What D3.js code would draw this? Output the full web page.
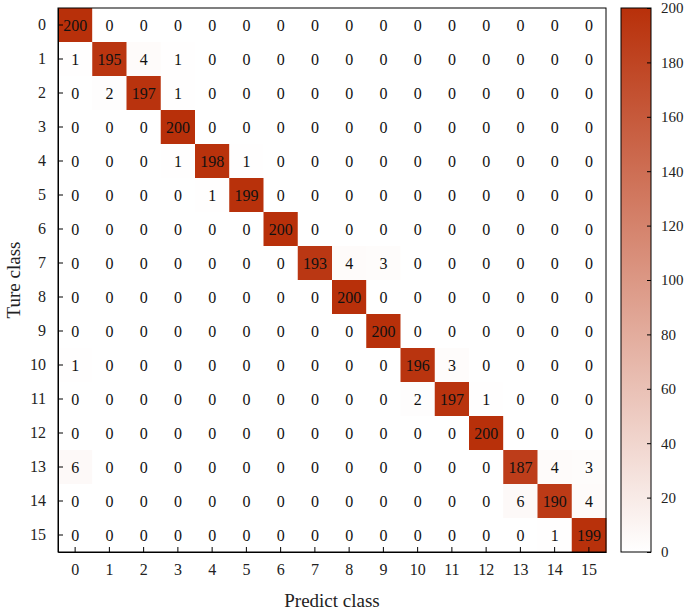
<!DOCTYPE html>
<html><head><meta charset="utf-8">
<script src="https://cdn.jsdelivr.net/npm/d3@7"></script>
<style>body{margin:0;background:#fff}text{font-family:"Liberation Serif","DejaVu Serif",serif}</style>
</head><body>
<svg id="chart" width="685" height="612"></svg>
<script>
const classes = d3.range(16).map(String);
const matrix = [
  [200,0,0,0,0,0,0,0,0,0,0,0,0,0,0,0],
  [1,195,4,1,0,0,0,0,0,0,0,0,0,0,0,0],
  [0,2,197,1,0,0,0,0,0,0,0,0,0,0,0,0],
  [0,0,0,200,0,0,0,0,0,0,0,0,0,0,0,0],
  [0,0,0,1,198,1,0,0,0,0,0,0,0,0,0,0],
  [0,0,0,0,1,199,0,0,0,0,0,0,0,0,0,0],
  [0,0,0,0,0,0,200,0,0,0,0,0,0,0,0,0],
  [0,0,0,0,0,0,0,193,4,3,0,0,0,0,0,0],
  [0,0,0,0,0,0,0,0,200,0,0,0,0,0,0,0],
  [0,0,0,0,0,0,0,0,0,200,0,0,0,0,0,0],
  [1,0,0,0,0,0,0,0,0,0,196,3,0,0,0,0],
  [0,0,0,0,0,0,0,0,0,0,2,197,1,0,0,0],
  [0,0,0,0,0,0,0,0,0,0,0,0,200,0,0,0],
  [6,0,0,0,0,0,0,0,0,0,0,0,0,187,4,3],
  [0,0,0,0,0,0,0,0,0,0,0,0,0,6,190,4],
  [0,0,0,0,0,0,0,0,0,0,0,0,0,0,1,199]
];
const cbTicks = [0,20,40,60,80,100,120,140,160,180,200];

const svg = d3.select("#chart");
const m = {left: 58, top: 8, right: 606, bottom: 552};
const x = d3.scaleBand().domain(classes).range([m.left, m.right]);
const y = d3.scaleBand().domain(classes).range([m.top, m.bottom]);
const color = d3.scaleLinear().domain([0, 200]).range(["#ffffff", "#b8300a"]);

const cells = [];
matrix.forEach((row, i) => row.forEach((v, j) => cells.push({r: classes[i], c: classes[j], v})));

svg.append("g").selectAll("rect").data(cells).enter().append("rect")
  .attr("x", d => x(d.c)).attr("y", d => y(d.r))
  .attr("width", x.bandwidth() + 0.5).attr("height", y.bandwidth() + 0.5)
  .attr("fill", d => color(d.v));

svg.append("g").selectAll("text").data(cells).enter().append("text")
  .attr("x", d => x(d.c) + x.bandwidth() / 2).attr("y", d => y(d.r) + y.bandwidth() / 2)
  .attr("text-anchor", "middle").attr("dy", "0.35em")
  .attr("font-size", 16).attr("fill", "#111").text(d => d.v);

// axes
const xAxis = svg.append("g").attr("transform", `translate(0,${m.bottom})`)
  .call(d3.axisBottom(x).tickSizeInner(-5).tickSizeOuter(0).tickPadding(12));
const yAxis = svg.append("g").attr("transform", `translate(${m.left},0)`)
  .call(d3.axisLeft(y).tickSizeInner(-5).tickSizeOuter(0).tickPadding(12));
[xAxis, yAxis].forEach(a => {
  a.selectAll("text").attr("font-size", 16).attr("fill", "#222").style("font-family", "Liberation Serif");
  a.select(".domain").attr("stroke", "#000");
});
// box
svg.append("rect").attr("x", m.left).attr("y", m.top)
  .attr("width", m.right - m.left).attr("height", m.bottom - m.top)
  .attr("fill", "none").attr("stroke", "#000");

svg.append("text").attr("x", (m.left + m.right) / 2).attr("y", 607)
  .attr("text-anchor", "middle").attr("font-size", 19).attr("fill", "#222").text("Predict class");
svg.append("text").attr("transform", `translate(20,${(m.top + m.bottom) / 2}) rotate(-90)`)
  .attr("text-anchor", "middle").attr("font-size", 19).attr("fill", "#222").text("Ture class");

// colorbar
const cb = {x: 621, w: 30};
const cy = d3.scaleLinear().domain([0, 200]).range([m.bottom, m.top]);
const defs = svg.append("defs");
const grad = defs.append("linearGradient").attr("id", "cbg").attr("x1", 0).attr("y1", 1).attr("x2", 0).attr("y2", 0);
grad.append("stop").attr("offset", "0%").attr("stop-color", color(0));
grad.append("stop").attr("offset", "100%").attr("stop-color", color(200));
svg.append("rect").attr("x", cb.x).attr("y", m.top).attr("width", cb.w).attr("height", m.bottom - m.top)
  .attr("fill", "url(#cbg)").attr("stroke", "#000");
const cAxis = svg.append("g").attr("transform", `translate(${cb.x + cb.w},0)`)
  .call(d3.axisRight(cy).tickValues(cbTicks).tickSizeInner(-4).tickSizeOuter(0).tickPadding(10));
cAxis.selectAll("text").attr("font-size", 15).attr("fill", "#222").style("font-family", "Liberation Serif");
cAxis.select(".domain").remove();
</script>
</body></html>
